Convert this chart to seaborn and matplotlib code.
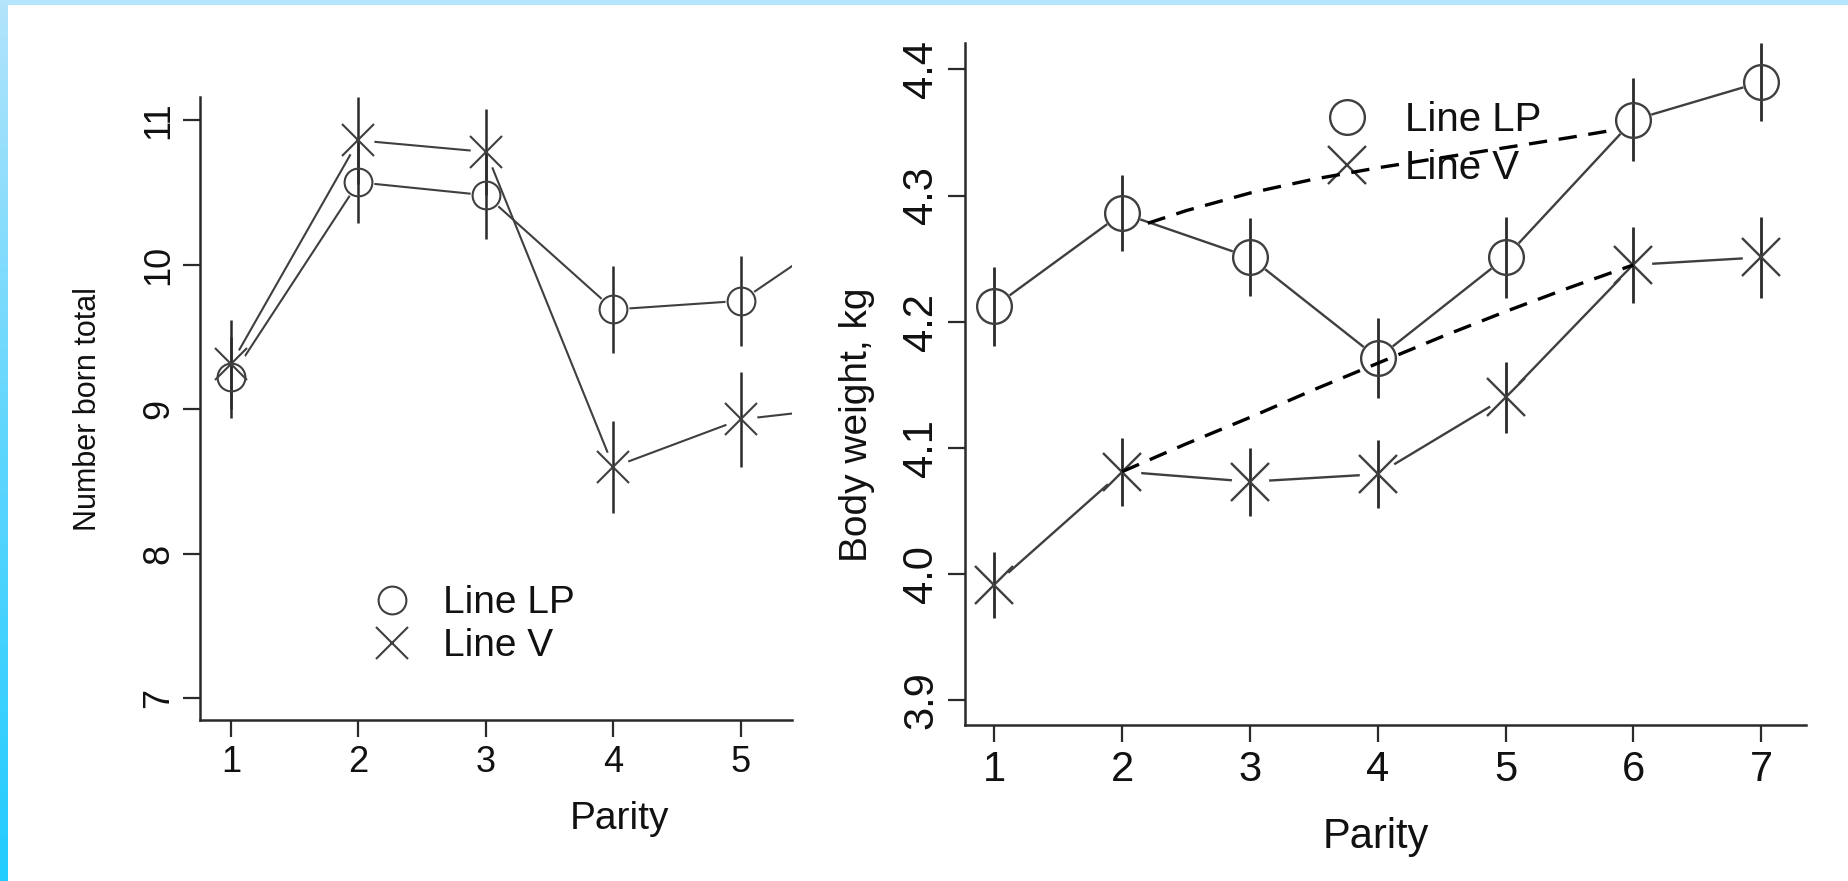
import numpy as np
import matplotlib
matplotlib.use("Agg")
import matplotlib.pyplot as plt
from matplotlib import font_manager
from matplotlib.lines import Line2D
from matplotlib.patches import Rectangle
from matplotlib.colors import LinearSegmentedColormap
import seaborn as sns

# ---- Number born total by parity ----
parity_born = [1, 2, 3, 4, 5, 6]
lp_born = [9.22, 10.57, 10.48, 9.69, 9.75, 10.35]
lp_born_se = [0.28, 0.28, 0.30, 0.30, 0.31, 0.30]
v_born = [9.31, 10.86, 10.78, 8.60, 8.93, 9.03]
v_born_se = [0.31, 0.30, 0.30, 0.32, 0.33, 0.32]

# ---- Body weight by parity ----
parity_bw = [1, 2, 3, 4, 5, 6, 7]
lp_bw = [4.212, 4.286, 4.251, 4.171, 4.251, 4.360, 4.390]
lp_bw_se = [0.031, 0.030, 0.031, 0.032, 0.032, 0.033, 0.031]
v_bw = [3.991, 4.081, 4.073, 4.079, 4.140, 4.245, 4.251]
v_bw_se = [0.026, 0.027, 0.027, 0.027, 0.028, 0.030, 0.032]

# fitted trends (dashed)
lp_trend_x = [2.2, 2.5, 3.0, 3.5, 4.0, 4.5, 5.0, 5.5, 5.85]
lp_trend_y = [4.278, 4.288, 4.302, 4.313, 4.322, 4.330, 4.338, 4.346, 4.352]
v_trend_x = [2.0, 2.5, 3.0, 3.5, 4.0, 4.5, 5.0, 5.5, 6.0]
v_trend_y = [4.081, 4.103, 4.124, 4.146, 4.167, 4.188, 4.208, 4.227, 4.245]

series_labels = ["Line LP", "Line V"]

sns.set_theme(style="white")
plt.rcParams["font.family"] = ["Liberation Sans", "DejaVu Sans"]

installed = {f.name for f in font_manager.fontManager.ttflist}
narrow_ok = "Liberation Sans Narrow" in installed

W, H = 1849, 881
fig = plt.figure(figsize=(W / 100, H / 100), dpi=100)
fig.patch.set_facecolor("white")

# slide frame: light strip on top, gradient strip on the left
fig.add_artist(Rectangle((0, 1 - 5 / H), 1, 5 / H, transform=fig.transFigure,
                         facecolor="#b4e5fc", edgecolor="none", zorder=10))
edge = fig.add_axes([0, 0, 8 / W, 1])
grad = np.linspace(0, 1, 256).reshape(-1, 1)
edge.imshow(grad, aspect="auto", origin="upper",
            cmap=LinearSegmentedColormap.from_list("edge", ["#b3e4fb", "#5fd6fd", "#22ccff"]))
edge.axis("off")

INK = "#2a2a2a"
LINE = "#3f3f3f"


def panel(ax, x, lp, lp_se, v, v_se, ms_o, ms_x, gap, lw, fs_tick):
    order = [(lp, 2.0), (v, 2.2)]
    for y, z in order:
        sns.lineplot(x=x, y=y, ax=ax, color=LINE, lw=lw, estimator=None,
                     sort=False, legend=False, zorder=z)
        ax.plot(x, y, ls="none", marker="o", ms=gap, mfc="white", mec="none",
                zorder=z + 0.05)
    for y, se in ((lp, lp_se), (v, v_se)):
        y = np.asarray(y)
        se = np.asarray(se)
        ax.vlines(x, y - se, y + se, color=INK, lw=lw + 0.3, zorder=3)
    ax.plot(x, lp, ls="none", marker="o", ms=ms_o, mfc="none", mec=LINE,
            mew=lw, zorder=4)
    ax.plot(x, v, ls="none", marker="x", ms=ms_x, mec=LINE, mew=lw, zorder=4)

    for s in ("top", "right"):
        ax.spines[s].set_visible(False)
    for s in ("left", "bottom"):
        ax.spines[s].set_color(INK)
        ax.spines[s].set_linewidth(1.8)
    ax.tick_params(axis="both", direction="out", length=12, width=1.6,
                   color=INK, labelcolor="#111111", labelsize=fs_tick,
                   left=True, bottom=True)
    ax.tick_params(axis="x", pad=6)
    ax.tick_params(axis="y", pad=5, labelrotation=90)
    plt.setp(ax.get_yticklabels(), va="center")
    ax.set_facecolor("none")


def legend(ax, ms_o, ms_x, lw, fs, anchor, textpad, spacing):
    handles = [
        Line2D([], [], ls="none", marker="o", ms=ms_o, mfc="none", mec=LINE, mew=lw),
        Line2D([], [], ls="none", marker="x", ms=ms_x, mec=LINE, mew=lw),
    ]
    leg = ax.legend(handles, series_labels, loc="center left", bbox_to_anchor=anchor,
                    frameon=False, fontsize=fs, handlelength=1.0,
                    handletextpad=textpad, labelspacing=spacing, borderpad=0,
                    borderaxespad=0)
    for t in leg.get_texts():
        t.set_color("#111111")
    leg.set_zorder(5)


# ---- left panel ----
ax1 = fig.add_axes([200 / W, 1 - 720 / H, 592 / W, 623 / H])
panel(ax1, parity_born, lp_born, lp_born_se, v_born, v_born_se,
      ms_o=20, ms_x=23, gap=23, lw=1.5, fs_tick=26)
ax1.set_xlim(0.757, 5.40)
ax1.set_ylim(6.85, 11.16)
ax1.set_xticks([1, 2, 3, 4, 5])
ax1.set_yticks([7, 8, 9, 10, 11])
ax1.set_xlabel("Parity", fontsize=28, color="#111111", va="center")
ax1.xaxis.set_label_coords(0.709, -0.159)
if narrow_ok:
    ax1.set_ylabel("Number born total", fontsize=26, color="#111111", va="center",
                   family=["Liberation Sans Narrow", "DejaVu Sans"])
else:
    ax1.set_ylabel("Number born total", fontsize=22, color="#111111", va="center")
ax1.yaxis.set_label_coords(-0.189, 0.499)
legend(ax1, 20, 23, 1.5, 28, (0.292, 0.153), 0.8, 0.18)

# ---- right panel ----
ax2 = fig.add_axes([965 / W, 1 - 725 / H, 841 / W, 682 / H])
panel(ax2, parity_bw, lp_bw, lp_bw_se, v_bw, v_bw_se,
      ms_o=25, ms_x=27, gap=27, lw=1.7, fs_tick=30)
ax2.plot(lp_trend_x, lp_trend_y, color="black", lw=2.4, ls=(0, (5.5, 3.5)), zorder=6)
ax2.plot(v_trend_x, v_trend_y, color="black", lw=2.4, ls=(0, (5.5, 3.5)), zorder=6)
ax2.set_xlim(0.77, 7.35)
ax2.set_ylim(3.880, 4.421)
ax2.set_xticks([1, 2, 3, 4, 5, 6, 7])
ax2.set_yticks([3.9, 4.0, 4.1, 4.2, 4.3, 4.4])
ax2.set_yticklabels(["3.9", "4.0", "4.1", "4.2", "4.3", "4.4"])
plt.setp(ax2.get_yticklabels(), va="center", rotation=90)
ax2.set_xlabel("Parity", fontsize=30, color="#111111", va="center")
ax2.xaxis.set_label_coords(0.488, -0.164)
ax2.set_ylabel("Body weight, kg", fontsize=28, color="#111111", va="center")
ax2.yaxis.set_label_coords(-0.128, 0.44)
legend(ax2, 25, 27, 1.7, 29, (0.430, 0.852), 0.95, 0.25)

fig.savefig("out.png", dpi=100, facecolor="white")
